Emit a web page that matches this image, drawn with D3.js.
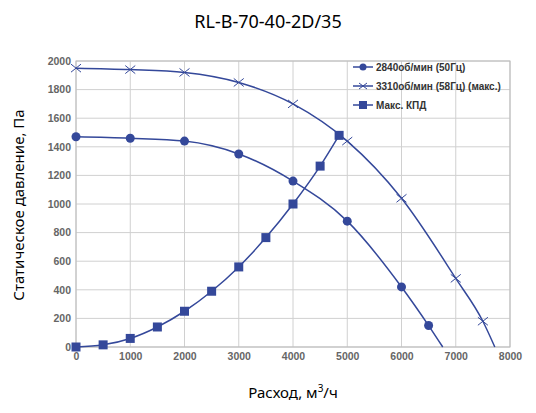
<!DOCTYPE html><html><head><meta charset="utf-8"><script src="https://cdn.jsdelivr.net/npm/d3@7"></script>
<style>body{margin:0;background:#fff}</style></head><body><svg id="c" width="536" height="413"></svg><script>
const xTicks=[0,1000,2000,3000,4000,5000,6000,7000,8000];
const yTicks=[0,200,400,600,800,1000,1200,1400,1600,1800,2000];
const s50x=[0,1000,2000,3000,4000,5000,6000,6500,6760];
const s50y=[1470,1460,1440,1350,1160,880,420,150,0];
const s58x=[0,1000,2000,3000,4000,5000,6000,7000,7500,7720];
const s58y=[1950,1940,1920,1850,1700,1440,1040,480,180,0];
const effx=[0,500,1000,1500,2000,2500,3000,3500,4000,4500,4850];
const effy=[0,15,60,140,250,390,560,765,1000,1265,1480];
const names=["2840об/мин (50Гц)","3310об/мин  (58Гц) (макс.)","Макс. КПД"];
const col="#34489a";
const svg=d3.select("#c");
const x=d3.scaleLinear().domain([0,8000]).range([76,510]);
const y=d3.scaleLinear().domain([0,2000]).range([347,61]);
svg.append("g").selectAll("line").data(xTicks).join("line").attr("x1",d=>x(d)).attr("x2",d=>x(d)).attr("y1",y(0)).attr("y2",y(2000)).attr("stroke","#d0d0d0");
svg.append("g").selectAll("line").data(yTicks).join("line").attr("y1",d=>y(d)).attr("y2",d=>y(d)).attr("x1",x(0)).attr("x2",x(8000)).attr("stroke","#d0d0d0");
svg.append("rect").attr("x",x(0)).attr("y",y(2000)).attr("width",x(8000)-x(0)).attr("height",y(0)-y(2000)).attr("fill","none").attr("stroke","#bbb");
const ax=svg.append("g").attr("transform",`translate(0,${y(0)})`).call(d3.axisBottom(x).tickValues(xTicks).tickFormat(d3.format("d")).tickSize(0).tickPadding(6));
const ay=svg.append("g").attr("transform",`translate(${x(0)},0)`).call(d3.axisLeft(y).tickValues(yTicks).tickFormat(d3.format("d")).tickSize(0).tickPadding(5));
[ax,ay].forEach(a=>{a.select(".domain").remove();a.selectAll("text").attr("font-family","Liberation Sans, Arial").attr("font-size",10.5).attr("font-weight","bold").attr("fill","#666");});
const line=d3.line().curve(d3.curveMonotoneX);
function series(xs,ys){return xs.map((v,i)=>[x(v),y(ys[i])]);}
const p50=series(s50x,s50y),p58=series(s58x,s58y),pe=series(effx,effy);
[p50,p58,pe].forEach(p=>svg.append("path").attr("d",line(p)).attr("fill","none").attr("stroke",col).attr("stroke-width",1.5));
svg.append("g").selectAll("circle").data(p50.slice(0,-1)).join("circle").attr("cx",d=>d[0]).attr("cy",d=>d[1]).attr("r",4.5).attr("fill",col);
svg.append("g").selectAll("path").data(p58.slice(0,-1)).join("path").attr("d",d=>`M${d[0]-5},${d[1]-4}L${d[0]+5},${d[1]+4}M${d[0]-5},${d[1]+4}L${d[0]+5},${d[1]-4}`).attr("stroke",col).attr("stroke-width",1);
svg.append("g").selectAll("rect").data(pe).join("rect").attr("x",d=>d[0]-4.5).attr("y",d=>d[1]-4.5).attr("width",9).attr("height",9).attr("fill",col);
const lg=svg.append("g").attr("font-family","Liberation Sans, Arial").attr("font-size",10).attr("font-weight","bold").attr("fill","#333");
names.forEach((n,i)=>{const yy=67+i*19,xx=363;
 lg.append("line").attr("x1",xx-10).attr("x2",xx+10).attr("y1",yy).attr("y2",yy).attr("stroke",col).attr("stroke-width",1.5);
 if(i==0)lg.append("circle").attr("cx",xx).attr("cy",yy).attr("r",3.5).attr("fill",col);
 if(i==1)lg.append("path").attr("d",`M${xx-4},${yy-3}L${xx+4},${yy+3}M${xx-4},${yy+3}L${xx+4},${yy-3}`).attr("stroke",col);
 if(i==2)lg.append("rect").attr("x",xx-4).attr("y",yy-4).attr("width",8).attr("height",8).attr("fill",col);
 lg.append("text").attr("x",xx+13).attr("y",yy+3.5).text(n);});
svg.append("text").attr("x",268).attr("y",28).attr("text-anchor","middle").attr("font-family","Noto Sans").attr("font-size",18).text("RL-B-70-40-2D/35");
const xl=svg.append("text").attr("x",293).attr("y",398).attr("text-anchor","middle").attr("font-family","Noto Sans").attr("font-size",15);
xl.append("tspan").text("Расход, м");xl.append("tspan").attr("dy",-6).attr("font-size",10).text("3");xl.append("tspan").attr("dy",6).text("/ч");
svg.append("text").attr("transform","translate(24,205) rotate(-90)").attr("text-anchor","middle").attr("font-family","Noto Sans").attr("font-size",15).text("Статическое давление, Па");
</script></body></html>
